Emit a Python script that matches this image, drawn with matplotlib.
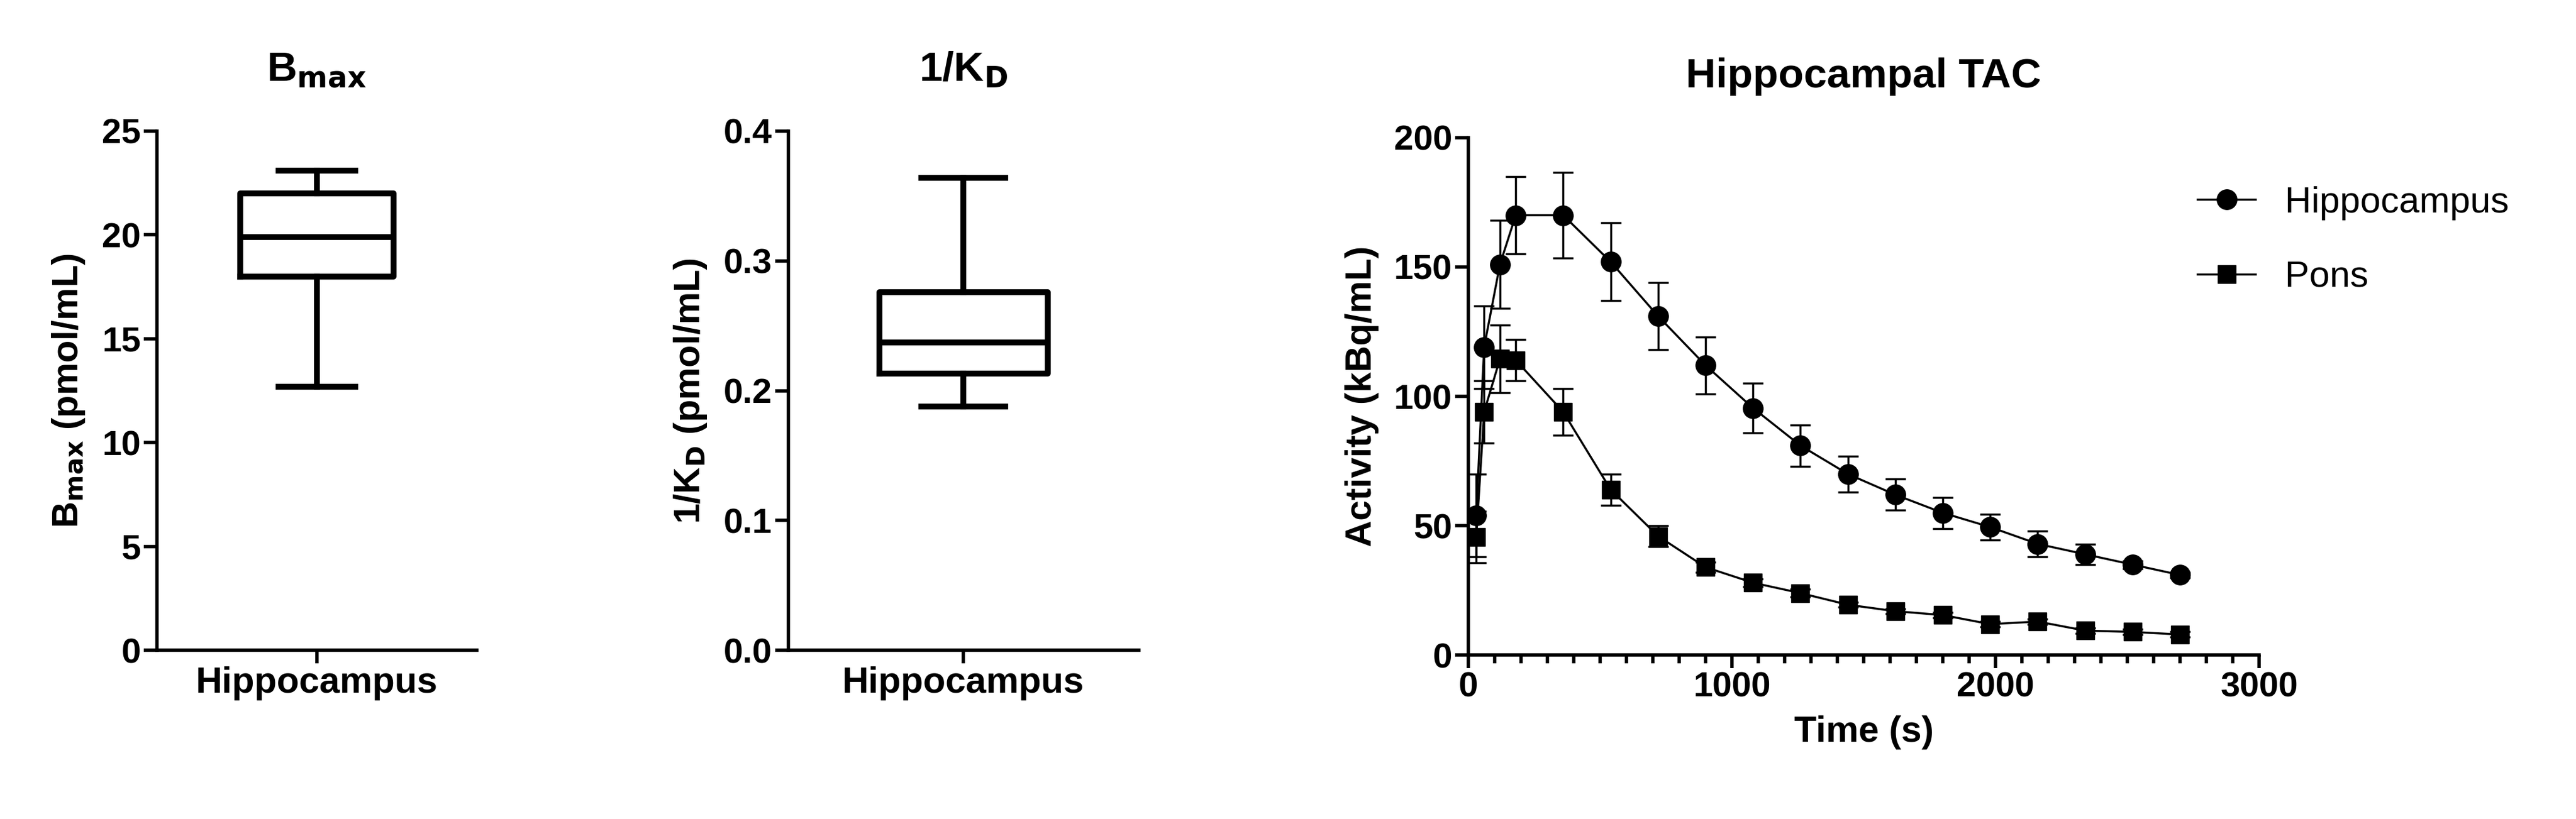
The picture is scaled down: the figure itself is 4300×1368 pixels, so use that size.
import numpy as np
import matplotlib
matplotlib.use("Agg")
import matplotlib.pyplot as plt
from matplotlib.lines import Line2D

plt.rcParams['font.family'] = ['Liberation Sans', 'DejaVu Sans']
plt.rcParams['font.weight'] = 'bold'

# box plot summaries (whisker low, q1, median, q3, whisker high)
bmax_stats = [12.7, 18.0, 19.9, 22.0, 23.1]
kd_stats = [0.188, 0.213, 0.237, 0.276, 0.364]
box_label = "Hippocampus"

# time activity curves
time_s = [30, 60, 120, 180, 360, 540, 720, 900, 1080, 1260, 1440, 1620,
          1800, 1980, 2160, 2340, 2520, 2700]
hippo_mean = [54, 119, 151, 170, 170, 152, 131, 112, 95.5, 81, 70, 62,
              55, 49.5, 43, 39, 35, 31]
hippo_err = [16, 16, 17, 15, 16.5, 15, 13, 11, 9.5, 8, 7, 6, 6, 5, 5, 4, 1.5, 1]
pons_mean = [45.7, 94, 114.5, 114, 94, 64, 46, 34, 28, 24, 19.5, 17,
             15.5, 12, 13, 9.5, 9, 8]
pons_err = [10, 12, 13, 8, 9, 6, 4, 2, 1.5, 1.5, 1, 1, 1, 1, 1, 1, 1, 1]

LW = 4
fig = plt.figure(figsize=(43, 13.68), dpi=100)


def style(ax):
    for s in ('top', 'right'):
        ax.spines[s].set_visible(False)
    for s in ('left', 'bottom'):
        ax.spines[s].set_linewidth(LW)
    ax.tick_params(width=LW, length=16, labelsize=42, direction='out')


def box_panel(rect, st, title, ylabel, ylim, yticks, fmt):
    ax = fig.add_axes(rect)
    stats = [dict(whislo=st[0], q1=st[1], med=st[2], q3=st[3], whishi=st[4],
                  label=box_label)]
    props = dict(color='black', linewidth=7)
    ax.bxp(stats, showfliers=False, widths=0.48, boxprops=props,
           whiskerprops=props, capprops=props, medianprops=props)
    ax.set_ylim(*ylim)
    ax.set_xlim(0.5, 1.5)
    ax.set_yticks(yticks)
    ax.set_yticklabels([fmt.format(v) for v in yticks])
    ax.set_ylabel(ylabel, fontsize=44, fontweight='bold', labelpad=18)
    ax.set_title(title, fontsize=50, fontweight='bold', pad=60)
    style(ax)
    ax.tick_params(axis='x', labelsize=44)
    return ax


box_panel([0.061, 0.206, 0.124, 0.634], bmax_stats, r"B$_{\mathrm{max}}$",
          r"B$_{\mathrm{max}}$ (pmol/mL)", (0, 25), [0, 5, 10, 15, 20, 25], "{:d}")
box_panel([0.306, 0.206, 0.136, 0.634], kd_stats, r"1/K$_{\mathrm{D}}$",
          r"1/K$_{\mathrm{D}}$ (pmol/mL)", (0, 0.4), [0, 0.1, 0.2, 0.3, 0.4], "{:.1f}")

ax = fig.add_axes([0.570, 0.2, 0.307, 0.632])
ax.errorbar(time_s, hippo_mean, yerr=hippo_err, color='black', marker='o',
            markersize=24, linewidth=2.5, elinewidth=2.5, capsize=12,
            capthick=2.5)
ax.errorbar(time_s, pons_mean, yerr=pons_err, color='black', marker='s',
            markersize=22, linewidth=2.5, elinewidth=2.5, capsize=12,
            capthick=2.5)
ax.set_xlim(0, 3000)
ax.set_ylim(0, 200)
ax.set_xticks([0, 1000, 2000, 3000])
ax.set_xticks(np.arange(0, 3001, 100), minor=True)
ax.set_yticks([0, 50, 100, 150, 200])
ax.tick_params(axis='x', which='minor', width=LW, length=10)
ax.set_xlabel("Time (s)", fontsize=44, fontweight='bold', labelpad=14)
ax.set_ylabel("Activity (kBq/mL)", fontsize=44, fontweight='bold', labelpad=18)
ax.set_title("Hippocampal TAC", fontsize=50, fontweight='bold', pad=60)
style(ax)
handles = [Line2D([], [], color='black', marker='o', markersize=24, linewidth=2.5),
           Line2D([], [], color='black', marker='s', markersize=22, linewidth=2.5)]
leg = ax.legend(handles, ['Hippocampus', 'Pons'], loc='upper left',
                bbox_to_anchor=(0.88, 0.97), frameon=False, fontsize=44,
                handlelength=1.6, labelspacing=1.1)
for t in leg.get_texts():
    t.set_fontweight('normal')

fig.savefig("out.png", dpi=100)
